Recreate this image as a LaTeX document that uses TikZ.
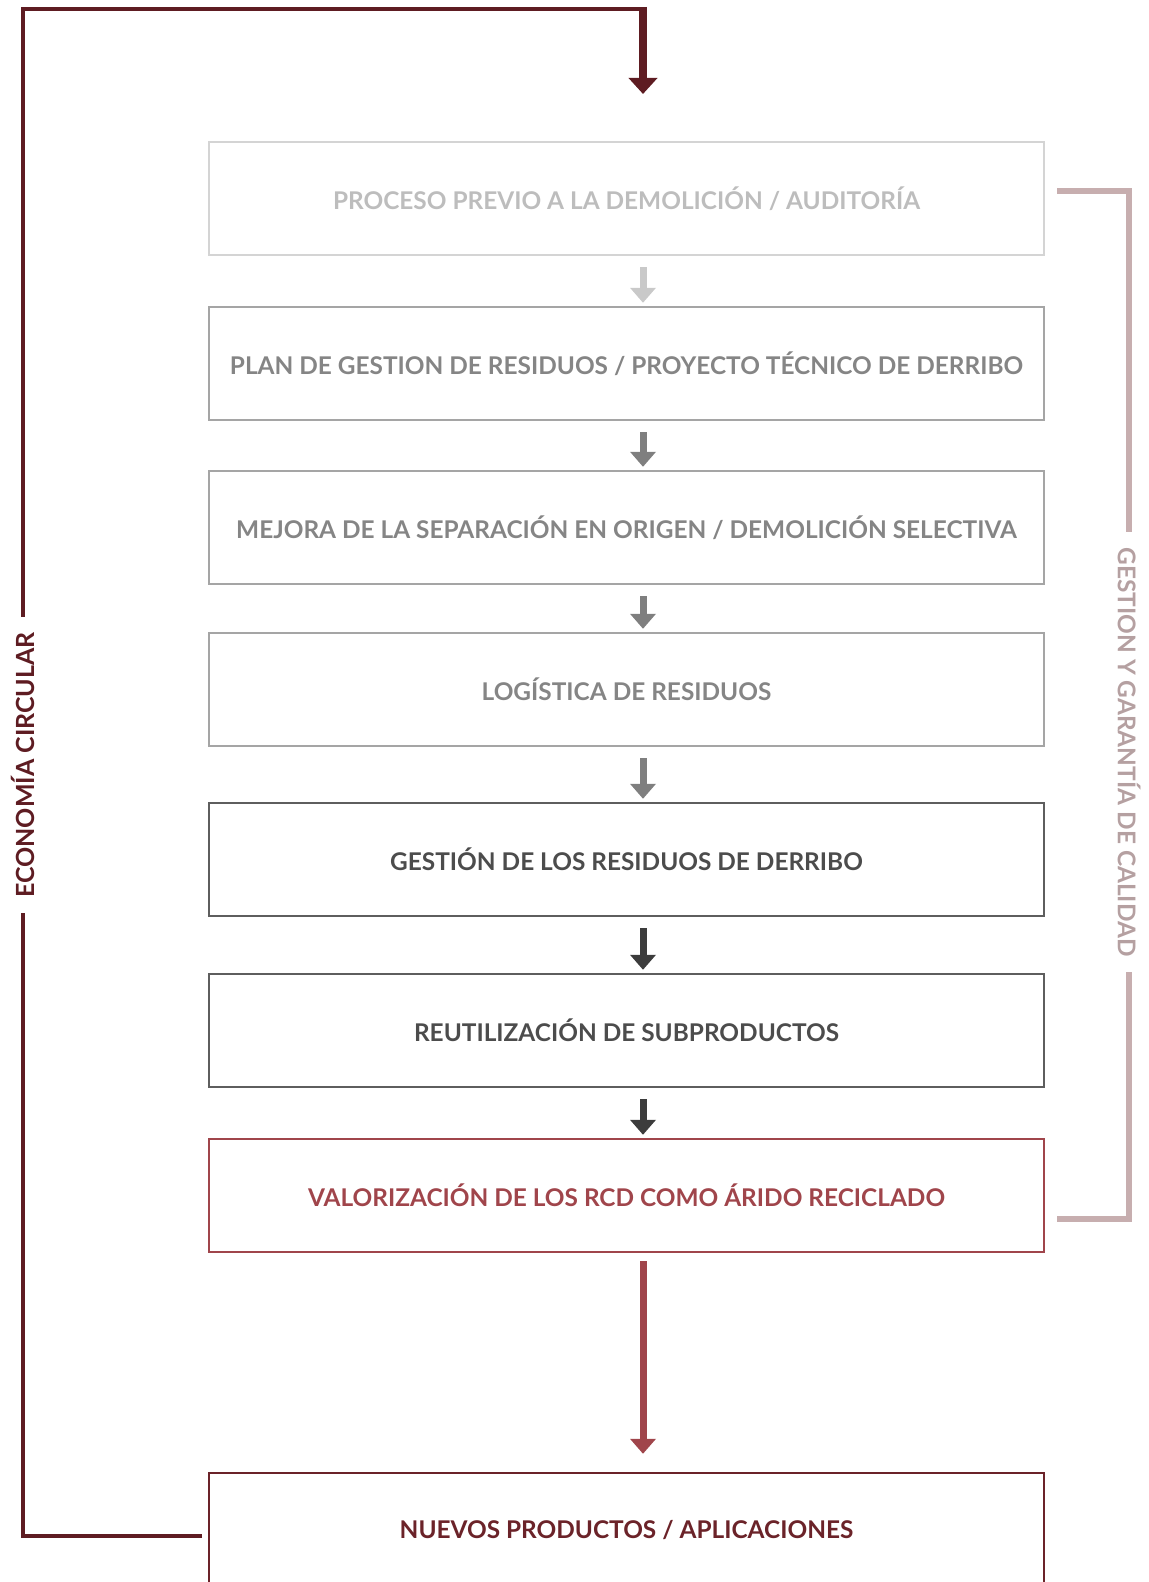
\documentclass[tikz,border=0pt]{standalone}
\usepackage{fontspec}
\setmainfont{Lato}
\usetikzlibrary{arrows.meta}
\definecolor{circ}{HTML}{5E1C22}
\definecolor{rojo}{HTML}{A0454B}
\definecolor{nuevo}{HTML}{6B2329}
\definecolor{g1}{HTML}{D4D4D4}
\definecolor{g1t}{HTML}{BDBDBD}
\definecolor{a1}{HTML}{C9C9C9}
\definecolor{g2}{HTML}{A5A5A5}
\definecolor{g2t}{HTML}{858585}
\definecolor{a2}{HTML}{7F7F7F}
\definecolor{g3}{HTML}{5E5E5E}
\definecolor{g3t}{HTML}{4C4C4C}
\definecolor{a3}{HTML}{3C3C3C}
\definecolor{calidad}{HTML}{C7AEAF}
\definecolor{calidadt}{HTML}{B5A0A1}
\begin{document}
\begin{tikzpicture}[x=0.5pt, y=-0.5pt,
    font=\fontsize{12.2}{14}\selectfont\bfseries,
    stepbox/.style 2 args={draw=#1, text=#2, line width=1.2pt,
      minimum width=417.5pt, minimum height=56.5pt, inner sep=0pt},
    flecha/.style={draw=#1, line width=3.5pt,
      -{Triangle[width=12.5pt,length=7.5pt]}},
    lazo/.style={draw=circ, line width=2.2pt, line join=miter},
    llave/.style={draw=calidad, line width=2.8pt, line join=miter}
  ]
  \useasboundingbox (0,0) rectangle (1148,1582);
  \node[stepbox={g1}{g1t}] (b1) at (626.5,198.5) {PROCESO PREVIO A LA DEMOLICIÓN / AUDITORÍA};
  \node[stepbox={g2}{g2t}] (b2) at (626.5,363.5) {PLAN DE GESTION DE RESIDUOS / PROYECTO TÉCNICO DE DERRIBO};
  \node[stepbox={g2}{g2t}] (b3) at (626.5,527.5) {MEJORA DE LA SEPARACIÓN EN ORIGEN / DEMOLICIÓN SELECTIVA};
  \node[stepbox={g2}{g2t}] (b4) at (626.5,689.5) {LOGÍSTICA DE RESIDUOS};
  \node[stepbox={g3}{g3t}] (b5) at (626.5,859.5) {GESTIÓN DE LOS RESIDUOS DE DERRIBO};
  \node[stepbox={g3}{g3t}] (b6) at (626.5,1030.5) {REUTILIZACIÓN DE SUBPRODUCTOS};
  \node[stepbox={rojo}{rojo}] (b7) at (626.5,1195.5) {VALORIZACIÓN DE LOS RCD COMO ÁRIDO RECICLADO};
  \node[stepbox={nuevo}{nuevo}] (b8) at (626.5,1529.5) {NUEVOS PRODUCTOS / APLICACIONES};
  \foreach \a/\b/\c in {b1/b2/a1, b2/b3/a2, b3/b4/a2, b4/b5/a2, b5/b6/a3, b6/b7/a3}
    \draw[flecha=\c] ([xshift=8.25pt,yshift=-5.5pt]\a.south) -- ([xshift=8.25pt,yshift=1.5pt]\b.north);
  \draw[flecha=rojo] ([xshift=8.25pt,yshift=-4pt]b7.south) -- ([xshift=8.25pt,yshift=9pt]b8.north);

  \node[rotate=90, text=circ, inner xsep=7.5pt, font=\fontsize{12.5}{15}\selectfont\bfseries] (econ) at (23,765) {ECONOMÍA CIRCULAR};
  \coordinate (pie) at (202,1536);
  \coordinate (esquina) at (23,9);
  \coordinate (codo) at (643,9);
  \coordinate (entrada) at (643,94);
  \draw[lazo] (pie) -| (econ.west);
  \draw[lazo] (econ.east) -- (esquina) -- (codo);
  \draw[flecha=circ, line width=4pt, -{Triangle[width=14pt,length=8pt]}] ([yshift=1pt]codo) -- (entrada);

  \node[rotate=-90, text=calidadt, inner xsep=7.5pt] (gest) at (1129,752) {GESTION Y GARANTÍA DE CALIDAD};
  \coordinate (cal1) at (1057,191);
  \coordinate (cal2) at (1057,1219);
  \draw[llave] (cal1) -| (gest.west);
  \draw[llave] (cal2) -| (gest.east);
\end{tikzpicture}
\end{document}
